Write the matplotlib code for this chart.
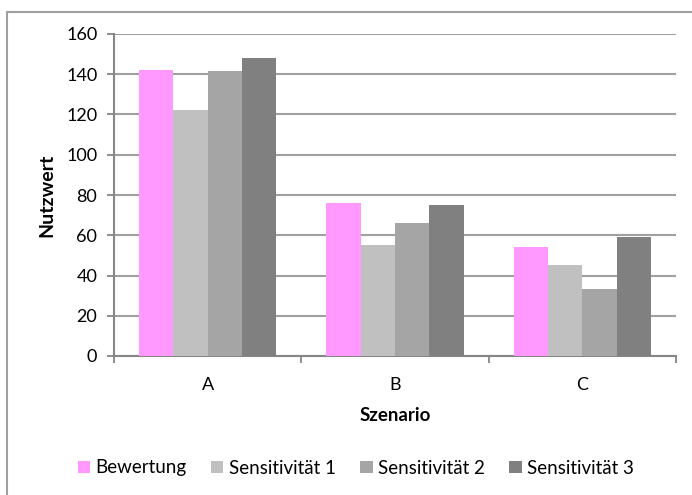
import numpy as np
import matplotlib.pyplot as plt
from matplotlib.patches import Rectangle

# Nutzwerte je Szenario
szenarien = ['A', 'B', 'C']
bewertung = [142, 76, 54]
sensitivitaet_1 = [122, 55, 45]
sensitivitaet_2 = [141.5, 66, 33.5]
sensitivitaet_3 = [148, 75, 59]

reihen = ['Bewertung', 'Sensitivität 1', 'Sensitivität 2', 'Sensitivität 3']
farben = ['#FF99FF', '#C0C0C0', '#A5A5A5', '#808080']
werte = [bewertung, sensitivitaet_1, sensitivitaet_2, sensitivitaet_3]

plt.rcParams['font.family'] = ['Lato', 'DejaVu Sans']

fig = plt.figure(figsize=(6.92, 4.95), dpi=100)
ax = fig.add_axes([114/692, 1 - 356/495, (676 - 114)/692, (356 - 34)/495])

# Rahmen um das Diagramm (rechts/unten abgeschnitten)
fig.patches.append(Rectangle((7/692, -0.1), 1.1, 1 - 12/495 + 0.1,
                             transform=fig.transFigure, fill=False,
                             edgecolor='#A0A0A0', linewidth=1.5, zorder=0))

x = np.arange(len(szenarien))
breite = 0.183
for i, (name, farbe, w) in enumerate(zip(reihen, farben, werte)):
    ax.bar(x + (i - 1.5) * breite, w, breite, color=farbe, label=name,
           edgecolor='none', zorder=3)

ax.set_xlim(-0.5, 2.5)
ax.set_ylim(0, 160)
ax.set_yticks(range(0, 161, 20))
ax.yaxis.grid(True, color='#A0A0A0', linewidth=1.5, zorder=0)
ax.set_axisbelow(True)

ax.set_xticks(x)
ax.set_xticklabels(szenarien)
ax.set_xticks([-0.5, 0.5, 1.5, 2.5], minor=True)
ax.tick_params(axis='x', which='major', length=0, pad=15, labelsize=13)
ax.tick_params(axis='x', which='minor', length=5, width=1.3, color='#868686')
ax.tick_params(axis='y', length=5, width=1.3, color='#868686', labelsize=13, pad=7)

for s in ['top', 'right']:
    ax.spines[s].set_visible(False)
for s in ['left', 'bottom']:
    ax.spines[s].set_color('#868686')
    ax.spines[s].set_linewidth(1.5)

ax.set_ylabel('Nutzwert', fontsize=14, fontweight='bold', labelpad=8)
ax.set_xlabel('Szenario', fontsize=13.5, fontweight='bold', labelpad=10)

fig.legend(loc='center', bbox_to_anchor=(356/692, 1 - 468/495), ncol=4,
           frameon=False, fontsize=13.5, handlelength=0.65, handleheight=0.65,
           handletextpad=0.3, columnspacing=1.3)

fig.savefig('out.png', dpi=100)
